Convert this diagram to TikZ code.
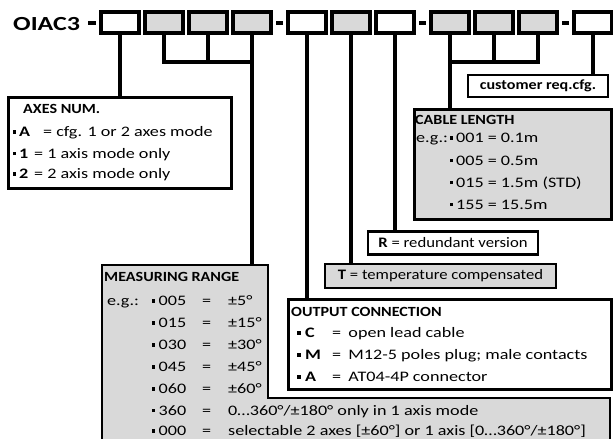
\documentclass[tikz,border=0pt]{standalone}
\usepackage{fontspec}
\setmainfont{Carlito}[FakeStretch=1.25]
\newfontfamily\titlefont{Carlito}[FakeStretch=1.15]
\newfontfamily\headfont{Carlito}[FakeStretch=1.3]
\definecolor{boxgray}{HTML}{D9D9D9}
\newcommand{\sqb}{\raisebox{2.9pt}{\rule{3.5pt}{3.5pt}}}

\begin{document}
\begin{tikzpicture}[x=1pt, y=-1pt]
        \tikzstyle{cell}=[draw, line width=4.2pt, minimum width=37.3pt, minimum height=20.5pt, inner sep=0pt, fill=white]
        \tikzstyle{cellg}=[cell, fill=boxgray]
        \tikzstyle{wire}=[line width=4.2pt]
        \tikzstyle{dashbar}=[line width=4pt]
        \tikzstyle{infobox}=[draw, line width=2.6pt, inner sep=0pt, anchor=north west]
        \tikzstyle{txt}=[anchor=base west, inner sep=0pt, font=\fontsize{14.5}{17}\selectfont]
        \tikzstyle{head}=[anchor=base west, inner sep=0pt, font=\titlefont\fontsize{14}{16}\selectfont\bfseries]
        \clip (0,0) rectangle (613,439);
        % code fields
        \node[anchor=base west, inner sep=0pt, font=\headfont\fontsize{20}{22}\selectfont\bfseries] (code) at (13,30.5) {OIAC3};
        \node[cell] (b1) at (120,22.5) {};
        \node[cellg] (b2) at (164,22.5) {};
        \node[cellg] (b3) at (208,22.5) {};
        \node[cellg] (b4) at (252,22.5) {};
        \node[cell] (b5) at (307,22.5) {};
        \node[cellg] (b6) at (351,22.5) {};
        \node[cell] (b7) at (395,22.5) {};
        \node[cellg] (b8) at (450,22.5) {};
        \node[cellg] (b9) at (494,22.5) {};
        \node[cellg] (b10) at (538,22.5) {};
        \node[cell] (b11) at (593,22.5) {};
        \draw[dashbar] (88,22.5) -- (96,22.5);
        \draw[dashbar] (276,22.5) -- (283,22.5);
        \draw[dashbar] (419,22.5) -- (426,22.5);
        \draw[dashbar] (562,22.5) -- (569,22.5);
        % info boxes
        \node[infobox, fill=white, minimum width=223pt, minimum height=91pt] (axes) at (7,96) {};
        \node[infobox, fill=boxgray, minimum width=197pt, minimum height=110pt] (cable) at (413,108) {};
        \node[infobox, anchor=center, fill=white, minimum width=140pt, minimum height=22pt, font=\titlefont\fontsize{14}{16}\selectfont\bfseries] (cust) at (538,86) {customer req.cfg.};
        \node[infobox, anchor=center, fill=white, minimum width=170pt, minimum height=22.5pt, font=\titlefont\fontsize{14.5}{16}\selectfont] (rbox) at (453,243) {\textbf{R} = redundant version};
        \node[infobox, anchor=center, fill=boxgray, minimum width=231pt, minimum height=24pt, font=\titlefont\fontsize{14.5}{16}\selectfont] (tbox) at (440.5,276) {\textbf{T} = temperature compensated};
        \draw[line width=2.6pt, fill=boxgray] (102,265) -- (268,265) -- (268,398) -- (610,398) -- (610,450) -- (102,450) -- cycle;
        \coordinate (measTop) at (252,265);
        \node[infobox, fill=white, minimum width=323pt, minimum height=90pt] (outbox) at (287,298) {};
        % connectors
        \coordinate (j1) at (252,62);
        \coordinate (j2) at (450,62);
        \draw[wire] (b1.south) -- (b1.south |- axes.north);
        \draw[wire] (b2.south) |- (j1);
        \draw[wire] (b3.south) -- (b3.south |- j1);
        \draw[wire] (b4.south) -- (b4.south |- measTop);
        \draw[wire] (b5.south) -- (b5.south |- outbox.north);
        \draw[wire] (b6.south) -- (b6.south |- tbox.north);
        \draw[wire] (b7.south) -- (b7.south |- rbox.north);
        \draw[wire] (b8.south) -- (b8.south |- cable.north);
        \draw[wire] (b10.south) |- (j2);
        \draw[wire] (b9.south) -- (b9.south |- j2);
        \draw[wire] (b11.south) -- (b11.south |- cust.north);
        % axes
        \node[head] (axT) at (23,113.5) {AXES NUM.};
        \node[txt] (axA) at (12.5,136.5) {\sqb\hspace{3pt}\makebox[24pt][l]{\textbf{A}}= cfg. 1 or 2 axes mode};
        \node[txt] (ax1) at (12.5,158) {\sqb\hspace{3pt}\makebox[15pt][l]{\textbf{1}}= 1 axis mode only};
        \node[txt] (ax2) at (12.5,178.5) {\sqb\hspace{3pt}\makebox[15pt][l]{\textbf{2}}= 2 axis mode only};
        % cable length
        \node[head] (caT) at (415,124) {CABLE LENGTH};
        \node[txt] (ca1) at (416,142.5) {\makebox[32.5pt][l]{e.g.:}\hspace{1pt}\sqb\hspace{3pt}001 = 0.1m};
        \node[txt] (ca2) at (449.5,165) {\sqb\hspace{3pt}005 = 0.5m};
        \node[txt] (ca3) at (449.5,187) {\sqb\hspace{3pt}015 = 1.5m (STD)};
        \node[txt] (ca4) at (449.5,209) {\sqb\hspace{3pt}155 = 15.5m};
        % measuring range
        \node[head] (meT) at (104,281.5) {MEASURING RANGE};
        \node[txt] (me1) at (107,305.5) {\makebox[44.5pt][l]{e.g.:}\sqb\hspace{3.5pt}\makebox[43.5pt][l]{005}\makebox[26pt][l]{=}±5°};
        \node[txt] (me2) at (151.5,327.5) {\sqb\hspace{3.5pt}\makebox[43.5pt][l]{015}\makebox[26pt][l]{=}±15°};
        \node[txt] (me3) at (151.5,349.5) {\sqb\hspace{3.5pt}\makebox[43.5pt][l]{030}\makebox[26pt][l]{=}±30°};
        \node[txt] (me4) at (151.5,371.5) {\sqb\hspace{3.5pt}\makebox[43.5pt][l]{045}\makebox[26pt][l]{=}±45°};
        \node[txt] (me5) at (151.5,393.5) {\sqb\hspace{3.5pt}\makebox[43.5pt][l]{060}\makebox[26pt][l]{=}±60°};
        \node[txt] (me6) at (151.5,415) {\sqb\hspace{3.5pt}\makebox[43.5pt][l]{360}\makebox[26pt][l]{=}0…360°/±180° only in 1 axis mode};
        \node[txt] (me7) at (151.5,435.5) {\sqb\hspace{3.5pt}\makebox[43.5pt][l]{000}\makebox[26pt][l]{=}selectable 2 axes [±60°] or 1 axis [0…360°/±180°]};
        % output connection
        \node[head] (ouT) at (291,316) {OUTPUT CONNECTION};
        \node[txt] (ouC) at (297,337.5) {\sqb\hspace{4.5pt}\makebox[27pt][l]{\textbf{C}}=\enspace open lead cable};
        \node[txt] (ouM) at (297,359.5) {\sqb\hspace{4.5pt}\makebox[27pt][l]{\textbf{M}}=\enspace M12-5 poles plug; male contacts};
        \node[txt] (ouA) at (297,381.5) {\sqb\hspace{4.5pt}\makebox[27pt][l]{\textbf{A}}=\enspace AT04-4P connector};
    \end{tikzpicture}
\end{document}
